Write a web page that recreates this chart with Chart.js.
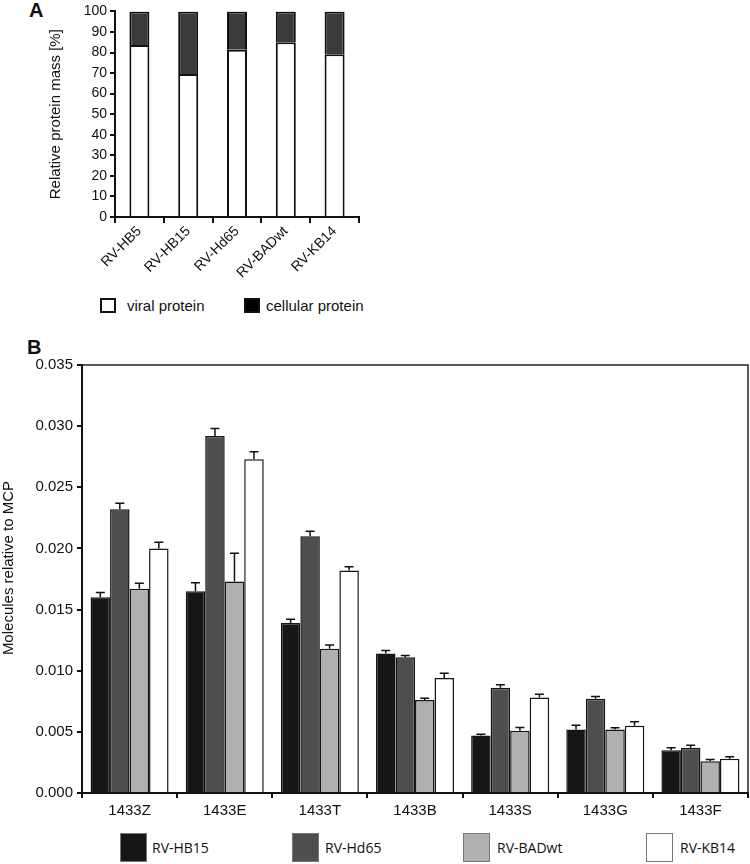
<!DOCTYPE html>
<html>
<head>
<meta charset="utf-8">
<script src="https://cdn.jsdelivr.net/npm/chart.js@4.4.1/dist/chart.umd.min.js"></script>
<style>
  html, body { margin: 0; padding: 0; background: #fff; }
  body { width: 750px; height: 864px; position: relative; overflow: hidden; font-family: 'Liberation Sans', Arial, sans-serif; }
  .abs { position: absolute; white-space: nowrap; }
  .panel { font-weight: bold; font-size: 20px; line-height: 20px; color: #111; }
  .legA { font-size: 15px; line-height: 15px; color: #111; }
  .boxA { width: 12px; height: 11px; border: 2px solid #111; }
  .legB { font-family: 'Open Sans', sans-serif; font-size: 14px; line-height: 30px; color: #111; }
  .boxB { width: 25px; height: 27px; border: 1.5px solid #777; }
</style>
</head>
<body>
<div class="abs panel" style="left:29px; top:0px;">A</div>
<div class="abs panel" style="left:27px; top:337px;">B</div>
<canvas id="chartA" class="abs" width="380" height="295" style="left:0; top:0;"></canvas>
<canvas id="chartB" class="abs" width="750" height="490" style="left:0; top:330px;"></canvas>

<div class="abs boxA" style="left:100px; top:298px; background:#fff;"></div>
<div class="abs legA" style="left:127px; top:298px;">viral protein</div>
<div class="abs boxA" style="left:244px; top:298px; background:#000;"></div>
<div class="abs legA" style="left:266px; top:298px;">cellular protein</div>

<div class="abs" style="left:-92px; top:559px; width:200px; text-align:center; font-size:15px; line-height:18px; color:#111; transform:rotate(-90deg);">Molecules relative to MCP</div>

<div class="abs boxB" style="left:120px; top:833px; background:#161616;"></div>
<div class="abs legB" style="left:152px; top:833px;">RV-HB15</div>
<div class="abs boxB" style="left:292px; top:833px; background:#4e4e4e;"></div>
<div class="abs legB" style="left:325px; top:833px;">RV-Hd65</div>
<div class="abs boxB" style="left:463px; top:833px; background:#b0b0b0;"></div>
<div class="abs legB" style="left:497px; top:833px;">RV-BADwt</div>
<div class="abs boxB" style="left:646px; top:833px; background:#ffffff;"></div>
<div class="abs legB" style="left:680px; top:833px;">RV-KB14</div>

<script>
// ---------- Panel A data ----------
const virusesA = ['RV-HB5', 'RV-HB15', 'RV-Hd65', 'RV-BADwt', 'RV-KB14'];
const viralProtein = [83.6, 69.5, 81.4, 85.0, 79.2];
const cellularProtein = [16.4, 30.5, 18.6, 15.0, 20.8];
const ticksA = [0, 10, 20, 30, 40, 50, 60, 70, 80, 90, 100];

// ---------- Panel B data ----------
const proteinsB = ['1433Z', '1433E', '1433T', '1433B', '1433S', '1433G', '1433F'];
const seriesNames = ['RV-HB15', 'RV-Hd65', 'RV-BADwt', 'RV-KB14'];
const hb15 = [0.0160, 0.0165, 0.0139, 0.0114, 0.0047, 0.0052, 0.0035];
const hd65 = [0.0232, 0.0292, 0.0210, 0.0111, 0.0086, 0.0077, 0.0037];
const badwt = [0.0167, 0.0173, 0.0118, 0.0076, 0.0051, 0.0052, 0.0026];
const kb14 = [0.0200, 0.0273, 0.0182, 0.0094, 0.0078, 0.0055, 0.0028];
const hb15Err = [0.0004, 0.0007, 0.0003, 0.00025, 0.0001, 0.00035, 0.0002];
const hd65Err = [0.0005, 0.0006, 0.0004, 0.00015, 0.00025, 0.0002, 0.0002];
const badwtErr = [0.00045, 0.0023, 0.0003, 0.00015, 0.00025, 0.00013, 0.00014];
const kb14Err = [0.0005, 0.0006, 0.0003, 0.0004, 0.00027, 0.00033, 0.00016];
const ticksB = [0, 0.005, 0.010, 0.015, 0.020, 0.025, 0.030, 0.035];

const FONT = "'Liberation Sans', Arial, sans-serif";
Chart.defaults.font.family = FONT;
Chart.defaults.color = '#111';
Chart.defaults.animation = false;

// ---------- Chart A ----------
new Chart(document.getElementById('chartA'), {
  type: 'bar',
  data: {
    labels: virusesA,
    datasets: [
      { label: 'viral protein', data: viralProtein, backgroundColor: '#ffffff', borderColor: '#111', borderWidth: 2, borderSkipped: 'start', barPercentage: 0.41, categoryPercentage: 1 },
      { label: 'cellular protein', data: cellularProtein, backgroundColor: '#3b3b3b', borderColor: '#111', borderWidth: 2, borderSkipped: 'start', barPercentage: 0.41, categoryPercentage: 1 }
    ]
  },
  options: {
    responsive: false,
    devicePixelRatio: 1,
    layout: { padding: { left: 43, top: 11, right: 21, bottom: 0 } },
    plugins: { legend: { display: false }, tooltip: { enabled: false } },
    scales: {
      x: {
        stacked: true,
        offset: true,
        grid: { offset: true, drawOnChartArea: false, tickLength: 6, color: '#111', lineWidth: 2 },
        border: { color: '#111', width: 2 },
        ticks: { minRotation: 45, maxRotation: 45, font: { size: 14 }, color: '#111', padding: 0 },
        afterFit: s => { s.height = 78; }
      },
      y: {
        stacked: true,
        min: 0, max: 100,
        afterBuildTicks: s => { s.ticks = ticksA.map(v => ({ value: v })); },
        grid: { drawOnChartArea: false, tickLength: 5, color: '#111', lineWidth: 2 },
        border: { color: '#111', width: 2 },
        ticks: { font: { size: 14 }, color: '#111', padding: 3 },
        title: { display: true, text: 'Relative protein mass [%]', font: { size: 15 }, color: '#111', padding: { top: 4, bottom: 0 } },
        afterFit: s => { s.width = 72; }
      }
    }
  }
});

// ---------- Chart B ----------
const errorBars = {
  id: 'errorBars',
  afterDatasetsDraw(chart) {
    const ctx = chart.ctx;
    const y = chart.scales.y;
    ctx.save();
    ctx.strokeStyle = '#111';
    ctx.lineWidth = 1.5;
    chart.data.datasets.forEach((ds, di) => {
      const meta = chart.getDatasetMeta(di);
      meta.data.forEach((bar, i) => {
        const top = y.getPixelForValue(ds.data[i] + ds.errors[i]);
        ctx.beginPath();
        ctx.moveTo(bar.x, bar.y);
        ctx.lineTo(bar.x, top);
        ctx.moveTo(bar.x - 4.5, top);
        ctx.lineTo(bar.x + 4.5, top);
        ctx.stroke();
      });
    });
    ctx.restore();
  }
};
const frame = {
  id: 'frame',
  afterDraw(chart) {
    const a = chart.chartArea, ctx = chart.ctx;
    ctx.save();
    ctx.strokeStyle = '#222';
    ctx.lineWidth = 1.5;
    ctx.beginPath();
    ctx.moveTo(a.left, a.top);
    ctx.lineTo(a.right, a.top);
    ctx.lineTo(a.right, a.bottom);
    ctx.stroke();
    ctx.restore();
  }
};

const colorsB = ['#161616', '#4e4e4e', '#b0b0b0', '#ffffff'];
const valuesB = [hb15, hd65, badwt, kb14];
const errsB = [hb15Err, hd65Err, badwtErr, kb14Err];

new Chart(document.getElementById('chartB'), {
  type: 'bar',
  data: {
    labels: proteinsB,
    datasets: seriesNames.map((n, k) => ({
      label: n, data: valuesB[k], errors: errsB[k],
      backgroundColor: colorsB[k], borderColor: '#151515', borderWidth: 1.5, borderSkipped: 'bottom',
      barPercentage: 1, categoryPercentage: 0.82
    }))
  },
  options: {
    responsive: false,
    devicePixelRatio: 1,
    layout: { padding: { left: 0, top: 35, right: 2, bottom: 0 } },
    plugins: { legend: { display: false }, tooltip: { enabled: false } },
    scales: {
      x: {
        offset: true,
        grid: { offset: true, drawOnChartArea: false, tickLength: 5, color: '#111', lineWidth: 2 },
        border: { color: '#111', width: 2 },
        ticks: { font: { size: 15 }, color: '#111', padding: 4, maxRotation: 0 },
        afterFit: s => { s.height = 27; }
      },
      y: {
        min: 0, max: 0.035,
        afterBuildTicks: s => { s.ticks = ticksB.map(v => ({ value: v })); },
        grid: { drawOnChartArea: false, tickLength: 5, color: '#111', lineWidth: 2 },
        border: { color: '#111', width: 2 },
        ticks: { font: { size: 15 }, color: '#111', padding: 4, callback: v => Number(v).toFixed(3) },
        afterFit: s => { s.width = 82; }
      }
    }
  },
  plugins: [errorBars, frame]
});
</script>
</body>
</html>
